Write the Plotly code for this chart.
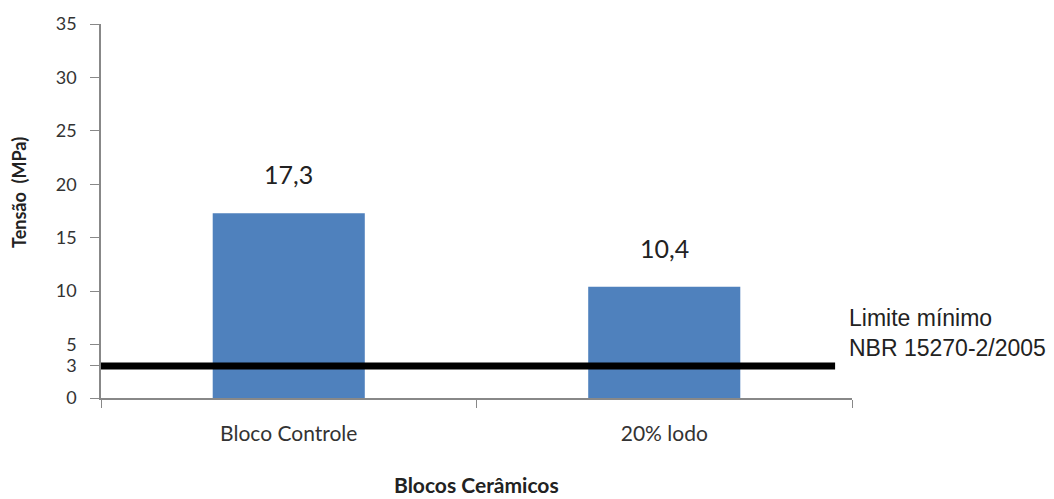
import plotly.graph_objects as go

# Compressive strength of ceramic blocks
categories = ["Bloco Controle", "20% lodo"]
tensao = [17.3, 10.4]
limite_minimo = 3
y_ticks = [0, 3, 5, 10, 15, 20, 25, 30, 35]

bar_color = "#4F81BD"
axis_color = "#888888"
text_color = "#333333"
calibri_like = "Lato, 'Open Sans', sans-serif"

fig = go.Figure()

fig.add_trace(go.Bar(
    x=categories,
    y=tensao,
    marker=dict(color=bar_color, line=dict(width=0)),
    width=0.405,
    hoverinfo="x+y",
))

# Value labels above the bars
for cat, val in zip(categories, tensao):
    fig.add_annotation(
        x=cat, y=val, xref="x", yref="y",
        text=f"{val:.1f}".replace(".", ","),
        showarrow=False, yshift=39, yanchor="middle",
        font=dict(family=calibri_like, size=25, color="#222222"),
    )

# Minimum-strength reference line (NBR 15270-2/2005)
fig.add_shape(
    type="line", xref="x", yref="y",
    x0=-0.51, x1=1.455, y0=limite_minimo, y1=limite_minimo,
    line=dict(color="black", width=7),
)
fig.add_annotation(
    xref="paper", yref="y", x=1.0, y=limite_minimo, xanchor="left", yanchor="bottom",
    xshift=-5, yshift=3,
    text="Limite mínimo<br>NBR 15270-2/2005",
    align="left", showarrow=False,
    font=dict(family="Liberation Sans, Arial, sans-serif", size=23, color="#222222"),
)

# Axis titles
fig.add_annotation(
    xref="paper", yref="paper", x=0.5, y=0, yshift=-86, xanchor="center", yanchor="middle",
    text="<b>Blocos Cerâmicos</b>", showarrow=False,
    font=dict(family=calibri_like, size=21, color="#222222"),
)
fig.add_annotation(
    xref="paper", yref="paper", x=0, y=0.5, xshift=-82, yshift=18, xanchor="center", yanchor="middle",
    text="<b>Tensão  (MPa)</b>", showarrow=False, textangle=-90,
    font=dict(family=calibri_like, size=18, color="#222222"),
)

fig.update_layout(
    width=1054, height=499,
    margin=dict(l=101, r=202, t=17, b=101),
    paper_bgcolor="white", plot_bgcolor="white",
    showlegend=False,
    separators=",.",
    xaxis=dict(
        type="category",
        range=[-0.5, 1.5],
        showline=True, linecolor=axis_color, linewidth=1.5,
        ticks="outside", tickson="boundaries", ticklen=8, tickcolor=axis_color,
        ticklabelstandoff=16,
        showgrid=False, zeroline=False,
        tickfont=dict(family=calibri_like, size=21, color=text_color),
    ),
    yaxis=dict(
        range=[0, 35],
        tickvals=y_ticks,
        showline=True, linecolor=axis_color, linewidth=1.5,
        ticks="outside", ticklen=9, tickcolor=axis_color,
        ticklabelstandoff=10,
        showgrid=False, zeroline=False,
        tickfont=dict(family=calibri_like, size=18, color=text_color),
    ),
)

fig.write_html("out.html")
